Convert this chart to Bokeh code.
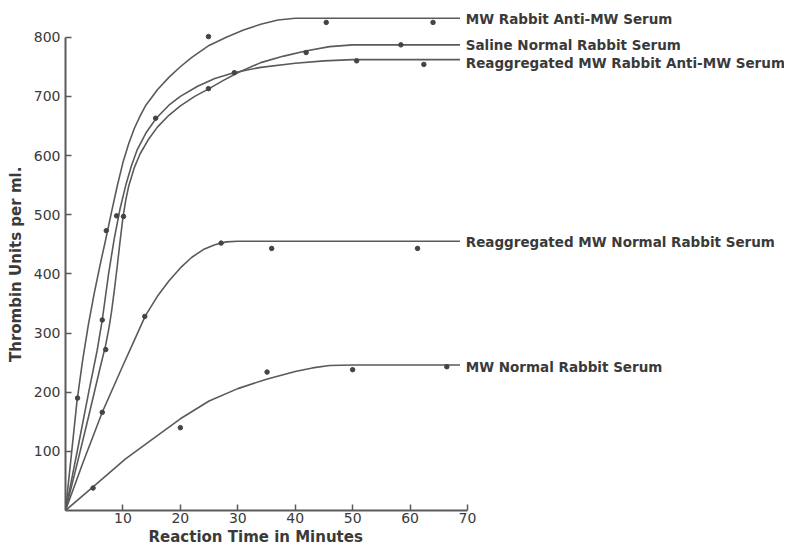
from bokeh.plotting import figure
from bokeh.models import ColumnDataSource, FixedTicker, Range1d, Title
from bokeh.core.properties import value
from bokeh.embed import file_html
from bokeh.resources import INLINE

# ---- data ----
x_ticks = [10, 20, 30, 40, 50, 60, 70]
y_ticks = [100, 200, 300, 400, 500, 600, 700, 800]

series_names = [
    "MW  Rabbit  Anti-MW  Serum",
    "Saline  Normal  Rabbit  Serum",
    "Reaggregated  MW  Rabbit  Anti-MW  Serum",
    "Reaggregated  MW  Normal  Rabbit  Serum",
    "MW  Normal  Rabbit  Serum",
]

# observed points (minutes, thrombin units/ml)
mw_anti_t = [2.1, 7.1, 24.9, 45.4, 64.0]
mw_anti_v = [190, 473, 801, 825, 825]
saline_t = [7.0, 10.1, 24.9, 41.9, 58.4]
saline_v = [272, 497, 713, 774, 787]
reagg_anti_t = [6.4, 8.9, 15.7, 29.4, 50.7, 62.4]
reagg_anti_v = [322, 498, 663, 740, 760, 754]
reagg_norm_t = [6.4, 13.8, 27.1, 35.9, 61.3]
reagg_norm_v = [166, 328, 452, 443, 443]
mw_norm_t = [4.8, 20.0, 35.1, 50.0, 66.4]
mw_norm_v = [38, 140, 234, 238, 243]

# hand-drawn fitted curves
mw_anti_cx = [0, 1, 2, 3, 4, 5, 6, 7, 8, 9, 10, 11, 12, 13, 14, 16, 18, 20, 22, 25, 28, 31, 34, 37, 40, 68.7]
mw_anti_cy = [0, 92, 185, 255, 315, 367, 414, 458, 504, 548, 588, 620, 646, 667, 685, 711, 732, 750, 766, 786, 800, 812, 822, 829, 832, 832]
saline_cx = [0, 2, 4, 6, 7, 7.5, 8, 8.5, 9, 9.5, 10, 10.5, 11, 12, 13, 14.5, 16, 18, 20, 22.5, 25, 27.5, 30, 34, 38, 42, 46, 50, 68.7]
saline_cy = [0, 78, 158, 240, 280, 305, 335, 372, 412, 455, 495, 525, 548, 580, 603, 628, 648, 668, 684, 700, 713, 727, 740, 757, 768, 777, 784, 787, 787]
reagg_anti_cx = [0, 2, 4, 5.5, 6.4, 7.5, 8.5, 9.5, 10.5, 11.5, 12.5, 14, 15.8, 18, 20, 23, 26, 29.3, 34, 40, 45, 50, 68.7]
reagg_anti_cy = [0, 98, 198, 270, 322, 400, 460, 510, 550, 583, 610, 638, 663, 685, 700, 717, 730, 740, 749, 756, 760, 762, 762]
reagg_norm_cx = [0, 3, 6.4, 10, 12, 13.9, 16, 18, 20, 22, 24, 26, 28, 30, 68.7]
reagg_norm_cy = [0, 80, 166, 245, 288, 329, 362, 388, 410, 428, 441, 449, 454, 455, 455]
mw_norm_cx = [0, 4.7, 10.4, 14.8, 20, 25, 30, 35, 40, 43, 46, 50, 68.7]
mw_norm_cy = [0, 39, 87, 118, 155, 185, 206, 222, 235, 241, 245, 246, 246]

# ---- styling ----
LINE = "#5a5a5a"
DOT = "#444444"
TEXT = "#3a3a3a"
FONT = "DejaVu Sans"

p = figure(width=784, height=546,
           x_range=Range1d(0, 125.2), y_range=Range1d(0, 858.6),
           output_backend="svg", toolbar_location=None,
           min_border_left=65, min_border_right=0,
           min_border_top=2, min_border_bottom=36)
p.outline_line_color = None
p.grid.visible = False
p.background_fill_color = "white"
p.border_fill_color = "white"

curves = [(mw_anti_cx, mw_anti_cy), (saline_cx, saline_cy), (reagg_anti_cx, reagg_anti_cy),
          (reagg_norm_cx, reagg_norm_cy), (mw_norm_cx, mw_norm_cy)]
points = [(mw_anti_t, mw_anti_v), (saline_t, saline_v), (reagg_anti_t, reagg_anti_v),
          (reagg_norm_t, reagg_norm_v), (mw_norm_t, mw_norm_v)]

for cx, cy in curves:
    p.line(cx, cy, line_color=LINE, line_width=1.6, line_join="round")
for t, v in points:
    p.scatter(t, v, size=4.5, marker="circle", fill_color=DOT, line_color=DOT)

label_x = [c[0][-1] + 1.0 for c in curves]
label_y = [c[1][-1] for c in curves]
label_dy = [1, 0, 3, 1, 2]  # pixel nudges
lsrc = ColumnDataSource(dict(x=label_x, y=label_y, text=series_names, dy=label_dy))
p.text(x="x", y="y", text="text", source=lsrc, y_offset="dy",
       text_font=value(FONT), text_font_size="13.5px", text_font_style="bold",
       text_color=TEXT, text_baseline="middle", text_align="left")

for ax in (p.xaxis, p.yaxis):
    ax.axis_line_color = LINE
    ax.axis_line_width = 2
    ax.major_tick_line_color = LINE
    ax.major_tick_line_width = 1.5
    ax.major_tick_in = 6
    ax.major_tick_out = 0
    ax.minor_tick_line_color = None
    ax.major_label_text_font = FONT
    ax.major_label_text_font_size = "14px"
    ax.major_label_text_color = TEXT
    ax.axis_label_text_font = FONT
    ax.axis_label_text_font_size = "15px"
    ax.axis_label_text_font_style = "bold"
    ax.axis_label_text_color = TEXT

p.xaxis.bounds = (0, 70)
p.xaxis.ticker = FixedTicker(ticks=x_ticks)
p.xaxis.major_label_standoff = 2

p.yaxis.bounds = (0, 800)
p.yaxis.ticker = FixedTicker(ticks=y_ticks)
p.yaxis.major_label_standoff = 5
p.yaxis.axis_label = "Thrombin  Units  per  ml."
p.yaxis.axis_label_standoff = 6

xtitle = Title(text="Reaction  Time  in  Minutes", align="left", offset=83,
               text_font=FONT, text_font_size="15px", text_font_style="bold",
               text_color=TEXT, standoff=0)
p.add_layout(xtitle, "below")

open("out.html", "w").write(file_html(p, INLINE))
